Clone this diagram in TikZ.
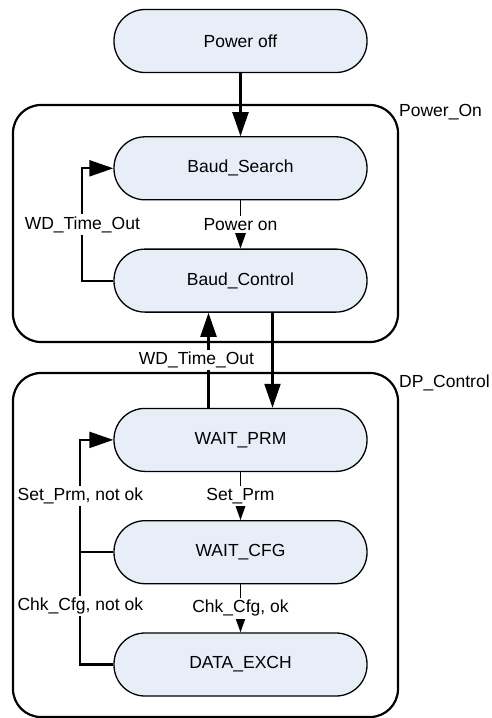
\documentclass[tikz,border=0pt]{standalone}
\usepackage{fontspec}
\setmainfont{Liberation Sans}
\usetikzlibrary{arrows.meta,positioning}
\definecolor{statefill}{RGB}{232,238,248}
\tikzset{
    state/.style={draw,line width=1.3pt,fill=statefill,rounded corners=31pt,minimum width=253pt,minimum height=63pt,inner sep=0pt},
    group/.style={draw,line width=2.2pt,rounded corners=28pt},
    pre/.style={-{Triangle[length=24pt,width=16pt]},line width=2.2pt},
    weak/.style={-{Triangle[length=16pt,width=11pt]},line width=1.4pt},
    bi/.style={-,line width=2.2pt},
    cond/.style={fill=white,inner sep=2pt},
    grouplabel/.style={anchor=west,inner xsep=1pt}
}
\begin{document}
\begin{tikzpicture}[x=1pt,y=-1pt,font=\fontsize{17.5}{20}\selectfont]
    \useasboundingbox (0,0) rectangle (492,718);

    \draw[group] (13,105) rectangle (398,342);
    \draw[group] (13,373) rectangle (398,717);
    \node[grouplabel] (power on group) at (398,112) {Power\_On};
    \node[grouplabel] (dp control group) at (398,383) {DP\_Control};

    \node[state] (power off) at (240.5,41) {Power off};
    \node[state] (baud search) [below=63pt of power off] {Baud\_Search};
    \node[state] (baud control) [below=48pt of baud search] {Baud\_Control};
    \node[state] (wait prm) [below=95pt of baud control] {WAIT\_PRM};
    \node[state] (wait cfg) [below=48pt of wait prm] {WAIT\_CFG};
    \node[state] (data exch) [below=48pt of wait cfg] {DATA\_EXCH};

    \draw[pre] (power off) -- (baud search);
    \draw[weak] (baud search) -- node[cond] {Power on} (baud control);
    \draw[pre] (baud control.west) -- ++(-31,0) |- node[cond,pos=0.25] {WD\_Time\_Out} (baud search.west);

    \draw[pre] ([xshift=32pt]baud control.south) -- ([xshift=32pt]wait prm.north);
    \draw[pre] ([xshift=-32pt]wait prm.north) -- node[cond,xshift=-12pt] {WD\_Time\_Out} ([xshift=-32pt]baud control.south);

    \draw[weak] (wait prm) -- node[cond] {Set\_Prm} (wait cfg);
    \draw[weak] (wait cfg) -- node[cond] {Chk\_Cfg, ok} (data exch);
    \draw[pre] (data exch.west) -- ++(-33,0) |- node[cond,pos=0.13] {Chk\_Cfg, not ok} node[cond,pos=0.375] {Set\_Prm, not ok} (wait prm.west);
    \draw[bi] (wait cfg.west) -- ++(-33,0);
\end{tikzpicture}
\end{document}
